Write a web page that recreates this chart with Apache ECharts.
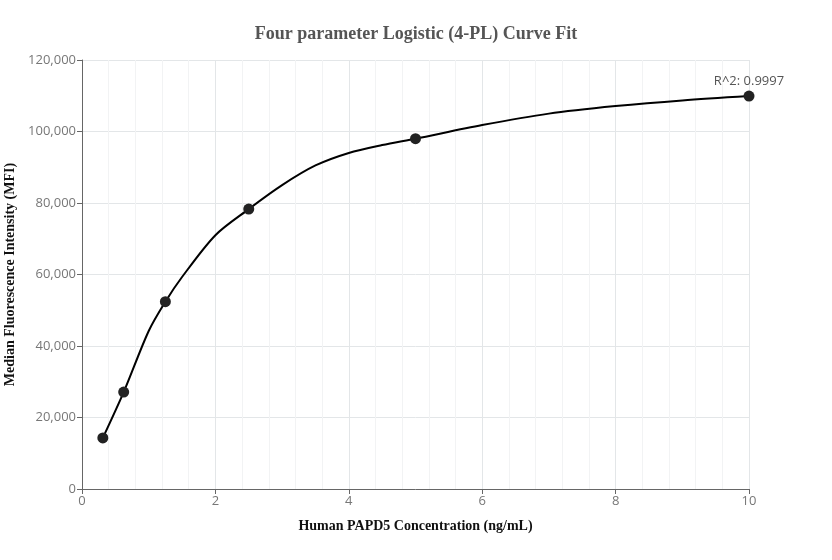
<!DOCTYPE html>
<html>
<head>
<meta charset="utf-8">
<script src="https://cdn.jsdelivr.net/npm/echarts@6/dist/echarts.min.js"></script>
<style>
  html, body { margin: 0; padding: 0; background: #fff; }
  #chart { width: 832px; height: 560px; }
</style>
</head>
<body>
<div id="chart"></div>
<script>
// standard points (ng/mL, MFI)
const stdConc = [0.3125, 0.625, 1.25, 2.5, 5, 10];
const stdMfi = [14300, 27100, 52400, 78300, 98000, 109900];

// fitted curve
const fitConc = [0.3125, 0.625, 1, 1.25, 1.5, 2, 2.5, 3, 3.5, 4, 4.5, 5, 6, 7, 8, 9, 10];
const fitMfi = [14300, 27100, 44200, 52400, 59300, 71000, 78300, 85000, 90500, 94000, 96200, 98000, 101800, 105000, 107100, 108700, 109900];

const rSquared = 'R^2: 0.9997';

const chart = echarts.init(document.getElementById('chart'));

const serif = 'Liberation Serif, Times New Roman, serif';
const sans = 'Open Sans, Liberation Sans, sans-serif';

const option = {
    animation: false,
    title: {
        text: 'Four parameter Logistic (4-PL) Curve Fit',
        left: 'center',
        top: 20,
        textStyle: { fontFamily: serif, fontWeight: 'bold', fontSize: 18, color: '#555' }
    },
    grid: { left: 82, right: 83, top: 60, bottom: 71, outerBoundsMode: 'none', containLabel: false },
    xAxis: {
        type: 'value',
        min: 0,
        max: 10,
        interval: 2,
        name: 'Human PAPD5 Concentration (ng/mL)',
        nameLocation: 'middle',
        nameGap: 30,
        nameTextStyle: { fontFamily: serif, fontWeight: 'bold', fontSize: 14, color: '#111' },
        axisLine: { show: true, lineStyle: { color: '#666' } },
        axisTick: { show: true, length: 5, lineStyle: { color: '#666' } },
        axisLabel: { fontFamily: sans, fontSize: 13, color: '#777', margin: 6 },
        splitLine: { show: true, lineStyle: { color: '#e3e6e8' } },
        minorTick: { show: false, splitNumber: 5 },
        minorSplitLine: { show: true, lineStyle: { color: '#f2f3f4' } }
    },
    yAxis: {
        type: 'value',
        min: 0,
        max: 120000,
        interval: 20000,
        name: 'Median Fluorescence Intensity (MFI)',
        nameLocation: 'middle',
        nameGap: 64,
        nameTextStyle: { fontFamily: serif, fontWeight: 'bold', fontSize: 14, color: '#111' },
        axisLine: { show: true, lineStyle: { color: '#666' } },
        axisTick: { show: true, length: 5, lineStyle: { color: '#666' } },
        axisLabel: {
            fontFamily: sans, fontSize: 13, color: '#777', margin: 6,
            formatter: v => v.toLocaleString('en-US')
        },
        splitLine: { show: true, lineStyle: { color: '#e3e6e8' } }
    },
    series: [
        {
            type: 'line',
            data: fitConc.map((x, i) => [x, fitMfi[i]]),
            smooth: 0.3,
            showSymbol: false,
            lineStyle: { color: '#000', width: 2 },
            z: 2
        },
        {
            type: 'scatter',
            data: stdConc.map((x, i) => [x, stdMfi[i]]),
            symbolSize: 11,
            itemStyle: { color: '#222', opacity: 1 },
            label: {
                show: true,
                position: 'top',
                distance: 3,
                fontFamily: sans,
                fontSize: 13,
                color: '#555',
                formatter: p => (p.dataIndex === stdConc.length - 1 ? rSquared : '')
            },
            z: 3
        }
    ]
};

chart.setOption(option);
</script>
</body>
</html>
